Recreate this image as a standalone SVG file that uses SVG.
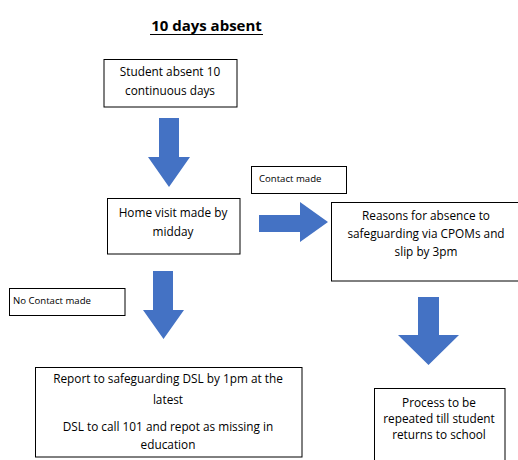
<svg xmlns="http://www.w3.org/2000/svg" width="518" height="460" viewBox="0 0 518 460">
<style>
.box{fill:#fff;stroke:#000;stroke-width:1}
.t{font-family:"Open Sans","Liberation Sans",Arial,sans-serif;font-size:11.8px;fill:#000;text-anchor:middle}
.s{font-family:"Open Sans","Liberation Sans",Arial,sans-serif;font-size:9.6px;fill:#000}
.arr{fill:#4472C4}
</style>
<rect width="518" height="460" fill="#fff"/>
<g id="title">
<text x="206.5" y="31" font-family="'Open Sans','Liberation Sans',Arial,sans-serif" font-size="15" font-weight="bold" text-anchor="middle" fill="#000">10 days absent</text>
<line x1="150" y1="34.5" x2="263" y2="34.5" stroke="#000" stroke-width="1.2"/>
</g>
<g id="connectors">
<polygon class="arr" points="159,118 179,118 179,157 190,157 169,187 148,157 159,157"/>
<polygon class="arr" points="259,215 300,215 300,202 328,222 300,242 300,232 259,232"/>
<polygon class="arr" points="153,271 173,271 173,310 184,310 163.5,339 143,310 153,310"/>
<polygon class="arr" points="418,297 439,297 439,335 459,335 428.5,365 398,335 418,335"/>
</g>
<g id="n1">
<rect class="box" x="104" y="59.5" width="133" height="47.5"/>
<text class="t" x="170" y="76">Student absent 10</text>
<text class="t" x="170" y="95">continuous days</text>
</g>
<g id="n2">
<rect class="box" x="107.5" y="198.5" width="132.5" height="55.5"/>
<text class="t" x="173" y="217">Home visit made by</text>
<text class="t" x="173" y="236">midday</text>
</g>
<g id="n3">
<rect class="box" x="251.5" y="166.5" width="95" height="27"/>
<text class="s" x="259" y="182">Contact made</text>
</g>
<g id="n4">
<rect class="box" x="331.5" y="202.5" width="190" height="78.5"/>
<text class="t" x="426" y="220">Reasons for absence to</text>
<text class="t" x="426" y="238">safeguarding via CPOMs and</text>
<text class="t" x="426" y="256">slip by 3pm</text>
</g>
<g id="n5">
<rect class="box" x="9.5" y="288.5" width="115.5" height="27"/>
<text class="s" x="13" y="304">No Contact made</text>
</g>
<g id="n6">
<rect class="box" x="35.5" y="367.5" width="266.5" height="89.5"/>
<text class="t" x="168" y="383">Report to safeguarding DSL by 1pm at the</text>
<text class="t" x="168" y="404">latest</text>
<text class="t" x="168" y="431">DSL to call 101 and repot as missing in</text>
<text class="t" x="168" y="449">education</text>
</g>
<g id="n7">
<rect class="box" x="374.5" y="388.5" width="130.5" height="80"/>
<text class="t" x="439" y="407">Process to be</text>
<text class="t" x="439" y="423">repeated till student</text>
<text class="t" x="439" y="439">returns to school</text>
</g>
</svg>
